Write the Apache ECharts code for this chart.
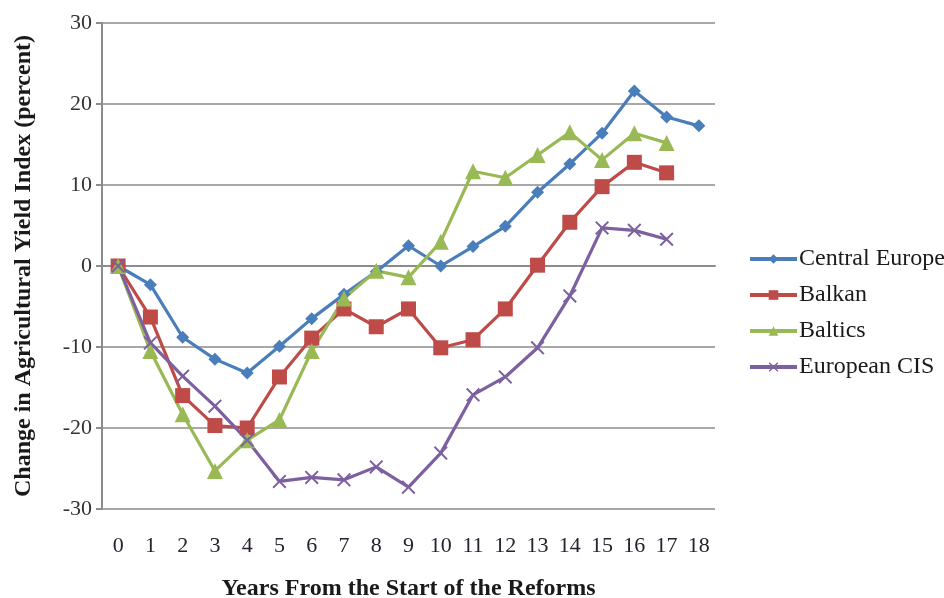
<!DOCTYPE html>
<html>
<head>
<meta charset="utf-8">
<script src="https://cdn.jsdelivr.net/npm/echarts@6/dist/echarts.min.js"></script>
<style>
  html, body { margin: 0; padding: 0; background: #fff; }
  #chart { width: 944px; height: 598px; }
</style>
</head>
<body>
<div id="chart"></div>
<script>
// Years since the start of reforms
const years = ['0','1','2','3','4','5','6','7','8','9','10','11','12','13','14','15','16','17','18'];

// Change in agricultural yield index (percent), by region
const centralEurope = [0, -2.3, -8.8, -11.5, -13.2, -9.9, -6.5, -3.5, -0.7, 2.5, 0, 2.4, 4.9, 9.1, 12.6, 16.4, 21.6, 18.4, 17.3];
const balkan        = [0, -6.3, -16.0, -19.7, -20.0, -13.7, -8.9, -5.3, -7.5, -5.3, -10.1, -9.1, -5.3, 0.1, 5.4, 9.8, 12.8, 11.5];
const baltics       = [0, -10.5, -18.3, -25.3, -21.5, -19.0, -10.5, -4.0, -0.6, -1.4, 3.0, 11.7, 10.9, 13.7, 16.5, 13.1, 16.4, 15.2];
const europeanCIS   = [0, -9.5, -13.6, -17.3, -21.5, -26.6, -26.1, -26.4, -24.8, -27.3, -23.1, -15.9, -13.7, -10.1, -3.7, 4.7, 4.4, 3.3];

const serif = '"Liberation Serif", "Times New Roman", serif';
const crossPath = 'path://M0,1L1,0L5,4L9,0L10,1L6,5L10,9L9,10L5,6L1,10L0,9L4,5Z';

const chart = echarts.init(document.getElementById('chart'), null, { renderer: 'canvas' });

function lineSeries(name, data, color, symbol, size) {
  return {
    name: name,
    type: 'line',
    data: data,
    symbol: symbol,
    symbolSize: size,
    showAllSymbol: true,
    lineStyle: { color: color, width: 3.2 },
    itemStyle: { color: color },
    emphasis: { disabled: true },
    animation: false
  };
}

chart.setOption({
  backgroundColor: '#ffffff',
  animation: false,
  grid: { left: 102, right: 229, top: 23, bottom: 89, containLabel: false, outerBoundsMode: 'none' },
  legend: {
    orient: 'vertical',
    left: 743,
    top: 242,
    itemWidth: 47,
    itemHeight: 12,
    itemGap: 12,
    lineStyle: { width: 4 },
    textStyle: { fontFamily: serif, fontSize: 24, color: '#1a1a1a', padding: [0, 0, 0, -3] },
    data: ['Central Europe', 'Balkan', 'Baltics', 'European CIS']
  },
  xAxis: {
    type: 'category',
    data: years,
    boundaryGap: true,
    name: 'Years From the Start of the Reforms',
    nameLocation: 'middle',
    nameGap: 68,
    nameTextStyle: { fontFamily: serif, fontSize: 24, fontWeight: 'bold', color: '#1a1a1a' },
    axisLine: { lineStyle: { color: '#8c8c8c', width: 2 } },
    axisTick: { show: false },
    axisLabel: { fontFamily: serif, fontSize: 22, color: '#2a2030', margin: 26 },
    splitLine: { show: false }
  },
  yAxis: {
    type: 'value',
    min: -30,
    max: 30,
    interval: 10,
    name: 'Change in Agricultural Yield Index (percent)',
    nameLocation: 'middle',
    nameGap: 66,
    nameTextStyle: { fontFamily: serif, fontSize: 24, fontWeight: 'bold', color: '#1a1a1a' },
    axisLine: { show: true, lineStyle: { color: '#8c8c8c', width: 2 } },
    axisTick: { show: true, length: 6, inside: false, lineStyle: { color: '#8c8c8c', width: 2 } },
    axisLabel: { fontFamily: serif, fontSize: 22, color: '#333333', margin: 10 },
    splitLine: { show: true, lineStyle: { color: '#a8a8a8', width: 2 } }
  },
  series: [
    lineSeries('Central Europe', centralEurope, '#4a7ebb', 'diamond', 13),
    lineSeries('Balkan', balkan, '#be4b48', 'rect', 15),
    lineSeries('Baltics', baltics, '#98b954', 'triangle', 16),
    lineSeries('European CIS', europeanCIS, '#7d60a0', crossPath, 14)
  ]
});
</script>
</body>
</html>
